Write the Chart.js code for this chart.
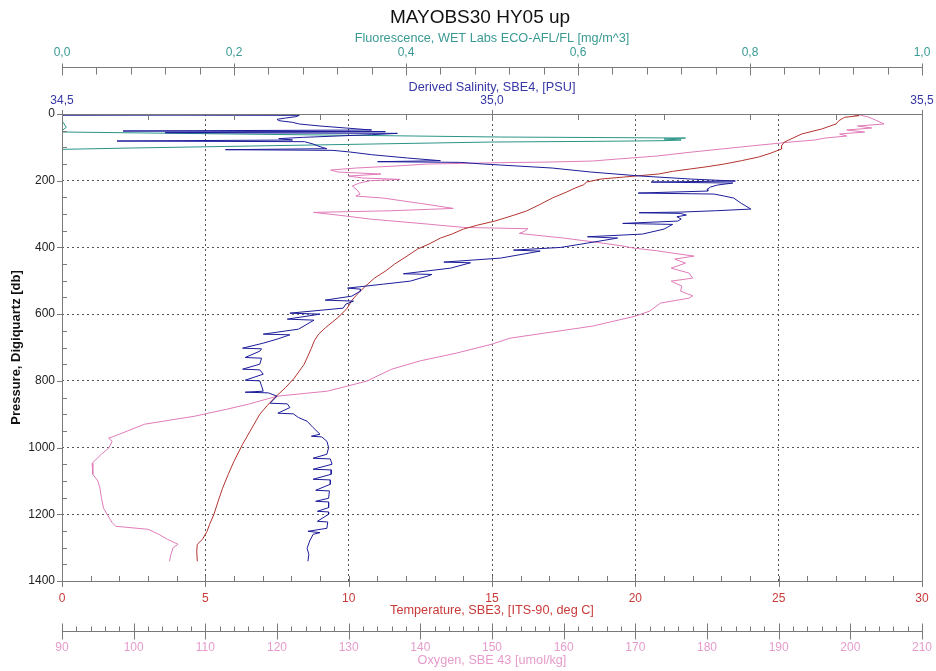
<!DOCTYPE html>
<html>
<head>
<meta charset="utf-8">
<title>MAYOBS30 HY05 up</title>
<script src="https://cdn.jsdelivr.net/npm/chart.js@4.4.1/dist/chart.umd.min.js"></script>
<style>
  html, body { margin: 0; padding: 0; background: #fff; }
  #wrap { width: 936px; height: 671px; }
</style>
</head>
<body>
<div id="wrap"><canvas id="ctdChart" width="936" height="671"></canvas></div>
<script>
// ---- cast data (upcast) ----
const stationTitle = 'MAYOBS30 HY05 up';

const pressTemp = [0, 5, 10, 15, 20, 30, 45, 60, 72, 84, 95, 105, 118, 129, 140, 150, 158, 165, 172, 180,
  189, 195, 204, 212, 222, 234, 252, 270, 291, 305, 321, 333, 345, 360, 372, 390, 405, 428, 450, 470,
  492, 515, 540, 560, 582, 600, 612, 640, 660, 680, 702, 750, 792, 820, 852, 875, 900, 945, 990, 1041,
  1080, 1122, 1160, 1200, 1230, 1251, 1275, 1290, 1310, 1341];
const tempValues = [27.5, 27.8, 27.3, 27.2, 27.1, 27.0, 26.5, 25.8, 25.5, 25.2, 25.1, 25.1, 24.7, 24.3, 23.7, 23.1, 22.5, 21.9, 21.3, 20.8,
  19.6, 18.8, 18.3, 18.2, 17.9, 17.6, 17.1, 16.7, 16.2, 15.7, 15.1, 14.5, 14.0, 13.6, 13.2, 12.8, 12.4, 12.0, 11.6, 11.3,
  10.9, 10.6, 10.3, 10.1, 9.95, 9.75, 9.6, 9.2, 8.95, 8.8, 8.7, 8.45, 8.1, 7.8, 7.4, 7.15, 6.9, 6.6, 6.3, 6.0,
  5.8, 5.6, 5.45, 5.3, 5.15, 5.06, 4.9, 4.72, 4.7, 4.72];

const pressSal = [0, 3, 4, 8, 12, 16, 20, 25, 30, 36, 42, 48, 51, 53, 56, 58, 62, 66, 70, 74,
  78, 81, 83, 90, 98, 104, 107, 109, 114, 122, 132, 140, 143, 145, 150, 153, 162, 174, 186, 195,
  201, 204, 207, 213, 219, 226, 231, 237, 240, 246, 252, 268, 285, 290, 294, 296, 298, 303, 308, 315,
  321, 328, 331, 345, 360, 368, 372, 387, 400, 408, 411, 432, 444, 446, 462, 479, 481, 486, 501, 510,
  522, 525, 531, 546, 558, 561, 570, 582, 597, 600, 615, 618, 630, 645, 660, 662, 675, 687, 702, 704,
  711, 730, 732, 750, 765, 767, 780, 798, 800, 815, 831, 834, 836, 846, 867, 869, 880, 897, 899, 910,
  921, 940, 960, 966, 968, 981, 1000, 1020, 1032, 1034, 1050, 1065, 1067, 1080, 1095, 1097, 1110, 1128, 1130, 1152,
  1161, 1163, 1180, 1191, 1193, 1200, 1221, 1223, 1242, 1251, 1255, 1260, 1280, 1302, 1320, 1341];
const salValues = [34.772, 34.50, 34.776, 34.772, 34.76, 34.75, 34.752, 34.768, 34.776, 34.80, 34.83, 34.86, 34.571, 34.876, 34.62, 34.89, 34.86, 34.82, 34.78, 34.752,
  34.768, 34.564, 34.782, 34.792, 34.80, 34.808, 34.69, 34.815, 34.835, 34.86, 34.902, 34.94, 34.867, 34.963, 34.99, 35.01, 35.07, 35.115, 35.173, 35.231,
  35.283, 35.185, 35.28, 35.262, 35.254, 35.25, 35.251, 35.17, 35.258, 35.27, 35.281, 35.29, 35.301, 35.26, 35.22, 35.171, 35.219, 35.226, 35.215, 35.22,
  35.216, 35.152, 35.21, 35.20, 35.175, 35.111, 35.146, 35.111, 35.08, 35.025, 35.056, 35.01, 34.944, 34.975, 34.952, 34.897, 34.93, 34.925, 34.905, 34.874,
  34.832, 34.847, 34.847, 34.837, 34.806, 34.839, 34.83, 34.827, 34.765, 34.80, 34.762, 34.793, 34.785, 34.775, 34.734, 34.765, 34.75, 34.734, 34.71, 34.732,
  34.73, 34.713, 34.732, 34.73, 34.71, 34.73, 34.734, 34.713, 34.73, 34.732, 34.734, 34.713, 34.74, 34.75, 34.742, 34.762, 34.765, 34.751, 34.769, 34.775,
  34.785, 34.792, 34.80, 34.79, 34.802, 34.808, 34.81, 34.808, 34.792, 34.812, 34.814, 34.792, 34.813, 34.813, 34.792, 34.812, 34.812, 34.795, 34.811, 34.81,
  34.795, 34.81, 34.81, 34.797, 34.81, 34.81, 34.797, 34.809, 34.808, 34.786, 34.80, 34.792, 34.788, 34.785, 34.787, 34.786];

const pressOxy = [0, 4, 9, 18, 30, 36, 42, 48, 54, 60, 66, 72, 78, 84, 95, 105, 115, 126, 135, 141,
  144, 146, 150, 156, 162, 168, 174, 180, 186, 192, 196, 200, 207, 216, 228, 240, 246, 252, 268, 283,
  290, 295, 303, 315, 330, 340, 344, 352, 358, 372, 385, 395, 402, 410, 418, 426, 435, 447, 462, 477,
  492, 501, 516, 531, 545, 552, 567, 591, 606, 636, 672, 690, 717, 740, 765, 801, 831, 846, 870, 885,
  906, 930, 960, 972, 981, 1002, 1020, 1047, 1080, 1100, 1122, 1150, 1182, 1200, 1225, 1236, 1245, 1260, 1275, 1290,
  1300, 1320, 1341];
const oxyValues = [200.5, 201.5, 202.5, 203.5, 204.7, 201, 203, 199.5, 202, 198.5, 199.5, 196.5, 195, 191.7, 186.5, 182, 177.5, 173, 167.5, 164,
  158, 151, 141, 136.5, 131, 127.5, 128.5, 134.5, 130, 132, 137.2, 133, 131.5, 130.5, 131.2, 131.6, 131, 134.8, 140, 144.6,
  136, 125.1, 128.5, 133, 141, 146, 155, 154.5, 153.8, 160, 164.7, 168, 169.8, 173, 175.5, 178.2, 175.5, 177, 175, 177.5,
  178, 175, 176.5, 176.3, 178, 177.5, 173.5, 172, 170, 164, 152.5, 150, 145, 140, 136, 132.5, 127, 120, 116, 113,
  108.5, 101.5, 98, 96.5, 97, 96.5, 95.5, 94.2, 94.3, 95, 95.3, 95.5, 95.8, 96.3, 97, 97.5, 102, 103.5, 104.7, 106.2,
  105.5, 105.2, 105];

const pressFluo = [0, 20, 40, 50, 54, 60, 66, 69, 72, 75, 78, 80, 82, 84, 90, 96, 102, 106, 150, 300, 500, 700, 900, 1100, 1341];
const fluoValues = [0, 0, 0.005, 0, 0, 0.2, 0.41, 0.51, 0.725, 0.70, 0.72, 0.70, 0.62, 0.50, 0.36, 0.22, 0.08, 0, 0, 0, 0, 0, 0, 0, 0];

// axis ranges
const pressRange = [0, 1400];
const tempRange = [0, 30];
const oxyRange = [90, 210];
const salRange = [34.5, 35.5];
const fluoRange = [0, 1.0];

const colTemp = '#b3342e';
const colSal = '#1c1c9a';
const colOxy = '#e07bb8';
const colFluo = '#2a9486';

const axisTitleFont = { size: 12.7 };

function profile(values, press) {
    return values.map((v, i) => ({ x: v, y: press[i] }));
}

function commaFmt(v) {
    return Number(v).toFixed(1).replace('.', ',');
}

// keep the plot box where the layout padding puts it
function fixHorizontal(height) {
    return (sc) => {
        sc.height = height;
        sc.paddingLeft = 0;
        sc.paddingRight = 0;
    };
}

Chart.defaults.font.family = "'Liberation Sans', Arial, sans-serif";
Chart.defaults.font.size = 12;

/* ============================
   Frame, tick marks and title
   ============================ */
const frameAndTicks = {
    id: 'frameAndTicks',
    afterDraw(chart) {
        const ctx = chart.ctx;
        const a = chart.chartArea;
        const s = chart.scales;
        const line = (x1, y1, x2, y2) => {
            ctx.beginPath();
            ctx.moveTo(x1, y1);
            ctx.lineTo(x2, y2);
            ctx.stroke();
        };
        ctx.save();
        ctx.strokeStyle = '#7a7a7a';
        ctx.lineWidth = 1;

        // plot box
        ctx.strokeRect(Math.round(a.left) + 0.5, Math.round(a.top) + 0.5,
            Math.round(a.right - a.left), Math.round(a.bottom - a.top));

        // pressure ticks
        for (let p = pressRange[0]; p <= pressRange[1]; p += 50) {
            const y = Math.round(s.y.getPixelForValue(p)) + 0.5;
            if (p % 200 === 0) line(a.left - 5, y, a.left, y);
            else line(a.left, y, a.left + 5, y);
        }

        // temperature ticks on the bottom edge
        for (let t = tempRange[0]; t <= tempRange[1]; t += 1) {
            const x = Math.round(s.xTemp.getPixelForValue(t)) + 0.5;
            if (t % 5 === 0) line(x, a.bottom - 5, x, a.bottom + 6);
            else line(x, a.bottom - 5, x, a.bottom);
        }

        // oxygen axis below
        const oy = Math.round(s.xOxy.top + 9) + 0.5;
        line(a.left, oy, a.right, oy);
        for (let o = oxyRange[0]; o <= oxyRange[1]; o += 2) {
            const x = Math.round(s.xOxy.getPixelForValue(o)) + 0.5;
            if (o % 10 === 0) line(x, oy - 8, x, oy + 8);
            else line(x, oy - 5, x, oy);
        }

        // salinity ticks on the top edge
        for (let i = 0; i <= 10; i++) {
            const v = salRange[0] + i * 0.1;
            const x = Math.round(s.xSal.getPixelForValue(v)) + 0.5;
            if (i % 5 === 0) line(x, a.top - 4, x, a.top + 7);
            else line(x, a.top, x, a.top + 6);
        }

        // fluorescence axis above
        const fy = Math.round(s.xFluo.bottom) + 0.5;
        line(a.left, fy, a.right, fy);
        for (let i = 0; i <= 25; i++) {
            const v = fluoRange[0] + i * 0.04;
            const x = Math.round(s.xFluo.getPixelForValue(v)) + 0.5;
            if (i % 5 === 0) line(x, fy - 4, x, fy + 8);
            else line(x, fy, x, fy + 7);
        }

        // station title
        ctx.fillStyle = '#111';
        ctx.font = "19px 'Liberation Sans', Arial, sans-serif";
        ctx.textAlign = 'center';
        ctx.textBaseline = 'middle';
        ctx.fillText(stationTitle, 480, 18);
        ctx.restore();
    }
};

const lineStyle = { borderWidth: 1, pointRadius: 0, tension: 0, fill: false, yAxisID: 'y' };

new Chart(document.getElementById('ctdChart'), {
    type: 'line',
    data: {
        datasets: [
            Object.assign({ label: 'Salinity', data: profile(salValues, pressSal), borderColor: colSal, xAxisID: 'xSal' }, lineStyle),
            Object.assign({ label: 'Temperature', data: profile(tempValues, pressTemp), borderColor: colTemp, xAxisID: 'xTemp' }, lineStyle),
            Object.assign({ label: 'Fluorescence', data: profile(fluoValues, pressFluo), borderColor: colFluo, xAxisID: 'xFluo' }, lineStyle),
            Object.assign({ label: 'Oxygen', data: profile(oxyValues, pressOxy), borderColor: colOxy, xAxisID: 'xOxy' }, lineStyle)
        ]
    },
    options: {
        responsive: false,
        animation: false,
        devicePixelRatio: 1,
        layout: { padding: { top: 31, left: 0, right: 14, bottom: 0 } },
        plugins: {
            legend: { display: false },
            tooltip: { enabled: false }
        },
        scales: {
            y: {
                type: 'linear', position: 'left', reverse: true,
                min: pressRange[0], max: pressRange[1],
                ticks: { stepSize: 200, padding: 7, color: '#222', callback: (v) => String(v) },
                grid: { color: '#555', drawTicks: false },
                border: { display: false, dash: [2, 3] },
                title: { display: true, text: 'Pressure, Digiquartz [db]', color: '#111',
                         font: { size: 13, weight: 'bold' }, padding: { top: 9, bottom: 0 } },
                afterFit: (sc) => { sc.width = 62; sc.paddingTop = 0; sc.paddingBottom = 0; }
            },
            xTemp: {
                type: 'linear', position: 'bottom', weight: 0,
                min: tempRange[0], max: tempRange[1],
                ticks: { stepSize: 5, padding: 10, color: '#c93a3a', maxRotation: 0 },
                grid: { color: '#555', drawTicks: false },
                border: { display: false, dash: [2, 3] },
                title: { display: true, text: 'Temperature, SBE3, [ITS-90, deg C]', color: '#c93a3a',
                         font: axisTitleFont, padding: { top: 0, bottom: 4 } },
                afterFit: fixHorizontal(41)
            },
            xOxy: {
                type: 'linear', position: 'bottom', weight: 1,
                min: oxyRange[0], max: oxyRange[1],
                ticks: { stepSize: 10, padding: 18, color: '#e59ccb', maxRotation: 0, autoSkip: false },
                grid: { display: false, drawTicks: false },
                border: { display: false },
                title: { display: true, text: 'Oxygen, SBE 43 [umol/kg]', color: '#e59ccb',
                         font: axisTitleFont, padding: { top: 0, bottom: 3 } },
                afterFit: fixHorizontal(49)
            },
            xSal: {
                type: 'linear', position: 'top', weight: 0,
                min: salRange[0], max: salRange[1],
                ticks: { stepSize: 0.5, padding: 6, color: '#3737a6', maxRotation: 0, callback: commaFmt },
                grid: { display: false, drawTicks: false },
                border: { display: false },
                title: { display: true, text: 'Derived Salinity, SBE4, [PSU]', color: '#3737a6',
                         font: axisTitleFont, padding: { top: 12.5, bottom: 0 } },
                afterFit: fixHorizontal(47)
            },
            xFluo: {
                type: 'linear', position: 'top', weight: 1,
                min: fluoRange[0], max: fluoRange[1],
                ticks: { stepSize: 0.2, padding: 7, color: '#3a9a93', maxRotation: 0, callback: commaFmt },
                grid: { display: false, drawTicks: false },
                border: { display: false },
                title: { display: true, text: 'Fluorescence, WET Labs ECO-AFL/FL [mg/m^3]', color: '#3a9a93',
                         font: axisTitleFont, padding: { top: 0, bottom: 0 } },
                afterFit: fixHorizontal(36)
            }
        }
    },
    plugins: [frameAndTicks]
});
</script>
</body>
</html>
